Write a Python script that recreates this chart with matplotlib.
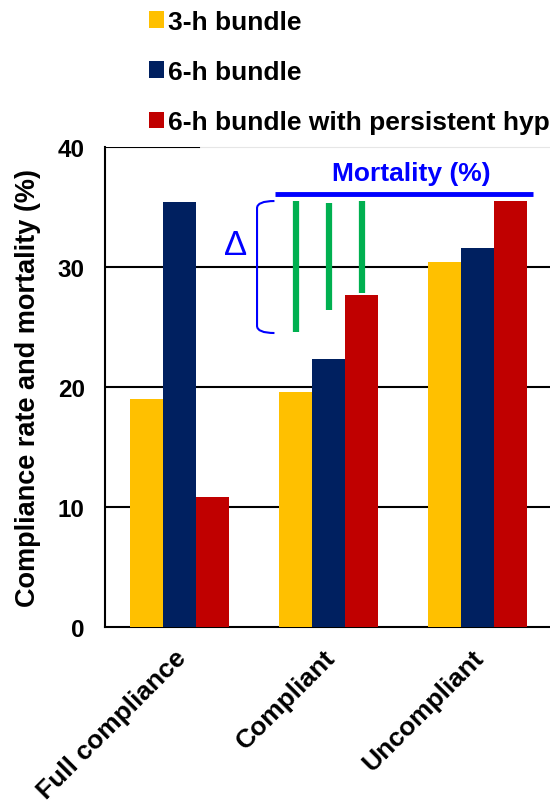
import matplotlib.pyplot as plt
from matplotlib.path import Path
from matplotlib.patches import PathPatch
import numpy as np

plt.rcParams['font.family'] = ['Liberation Sans', 'DejaVu Sans']
plt.rcParams['font.weight'] = 'bold'

categories = ['Full compliance', 'Compliant', 'Uncompliant']
series_names = ['3-h bundle', '6-h bundle', '6-h bundle with persistent hyp']
bundle_3h = [19.0, 19.6, 30.4]
bundle_6h = [35.4, 22.3, 31.6]
bundle_6h_hypo = [10.8, 27.7, 35.5]
colors = ['#FFC000', '#002060', '#C00000']

# green "delta" lines over the compliant group
delta_top = [35.5, 35.3, 35.5]
delta_bottom = [24.6, 26.4, 27.8]

fig = plt.figure(figsize=(5.5, 8.04), dpi=100)
ax = fig.add_axes([0.1918, 0.2189, 0.812, 0.597])

x = np.arange(len(categories))
w = 0.222
bars = []
for i, vals in enumerate([bundle_3h, bundle_6h, bundle_6h_hypo]):
    b = ax.bar(x + (i - 1) * w, vals, w, color=colors[i], label=series_names[i], zorder=3)
    bars.append(b)

ax.set_xlim(-0.5, 2.5)
ax.set_ylim(0, 40)
ax.set_yticks([0, 10, 20, 30, 40])
# labels sit a little left of the group centres (ticks are hidden)
ax.set_xticks(x - 0.04)
ax.set_xticklabels(categories, rotation=45, ha='right', va='top', rotation_mode='anchor', fontsize=19)
ax.tick_params(axis='y', labelsize=17.5, length=0, pad=15)
ax.tick_params(axis='x', length=0, pad=13)
ax.set_ylabel('Compliance rate and mortality (%)', fontsize=19.5, fontweight='bold', labelpad=12)

for y in [10, 20, 30]:
    ax.axhline(y, color='black', lw=1.5, zorder=1)
ax.axhline(40, xmin=0, xmax=0.21, color='black', lw=1.5, zorder=4)
ax.spines['top'].set_color('#e6e6e6')
ax.spines['right'].set_visible(False)
ax.spines['left'].set_linewidth(1.5)
ax.spines['bottom'].set_linewidth(1.5)

# delta lines
for i in range(3):
    xi = 1 + (i - 1) * w
    ax.plot([xi, xi], [delta_bottom[i], delta_top[i]], color='#00B050', lw=4.5, solid_capstyle='butt', zorder=5)

# mortality header
ax.plot([0.64, 2.37], [36.1, 36.1], color='#0000FF', lw=3.5, solid_capstyle='butt', zorder=5, clip_on=False)
ax.text(1.557, 37.8, 'Mortality (%)', color='#0000FF', fontsize=19, fontweight='bold', ha='center', va='center')

# bracket and delta symbol
verts = [(0.635, 35.5), (0.518, 35.5), (0.518, 34.9), (0.518, 25.1), (0.518, 24.5), (0.635, 24.5)]
codes = [Path.MOVETO, Path.CURVE3, Path.CURVE3, Path.LINETO, Path.CURVE3, Path.CURVE3]
ax.add_patch(PathPatch(Path(verts, codes), fill=False, edgecolor='#0000FF', lw=1.5, zorder=5))
ax.text(0.372, 31.9, 'Δ', color='#0000FF', fontsize=25, fontweight='normal', ha='center', va='center')

fig.legend(handles=bars, labels=series_names, loc='upper left', bbox_to_anchor=(0.251, 1.0),
           frameon=False, fontsize=19, handlelength=0.6, handleheight=0.6, handletextpad=0.12,
           labelspacing=1.0, borderaxespad=0)

fig.savefig('out.png', dpi=100)
